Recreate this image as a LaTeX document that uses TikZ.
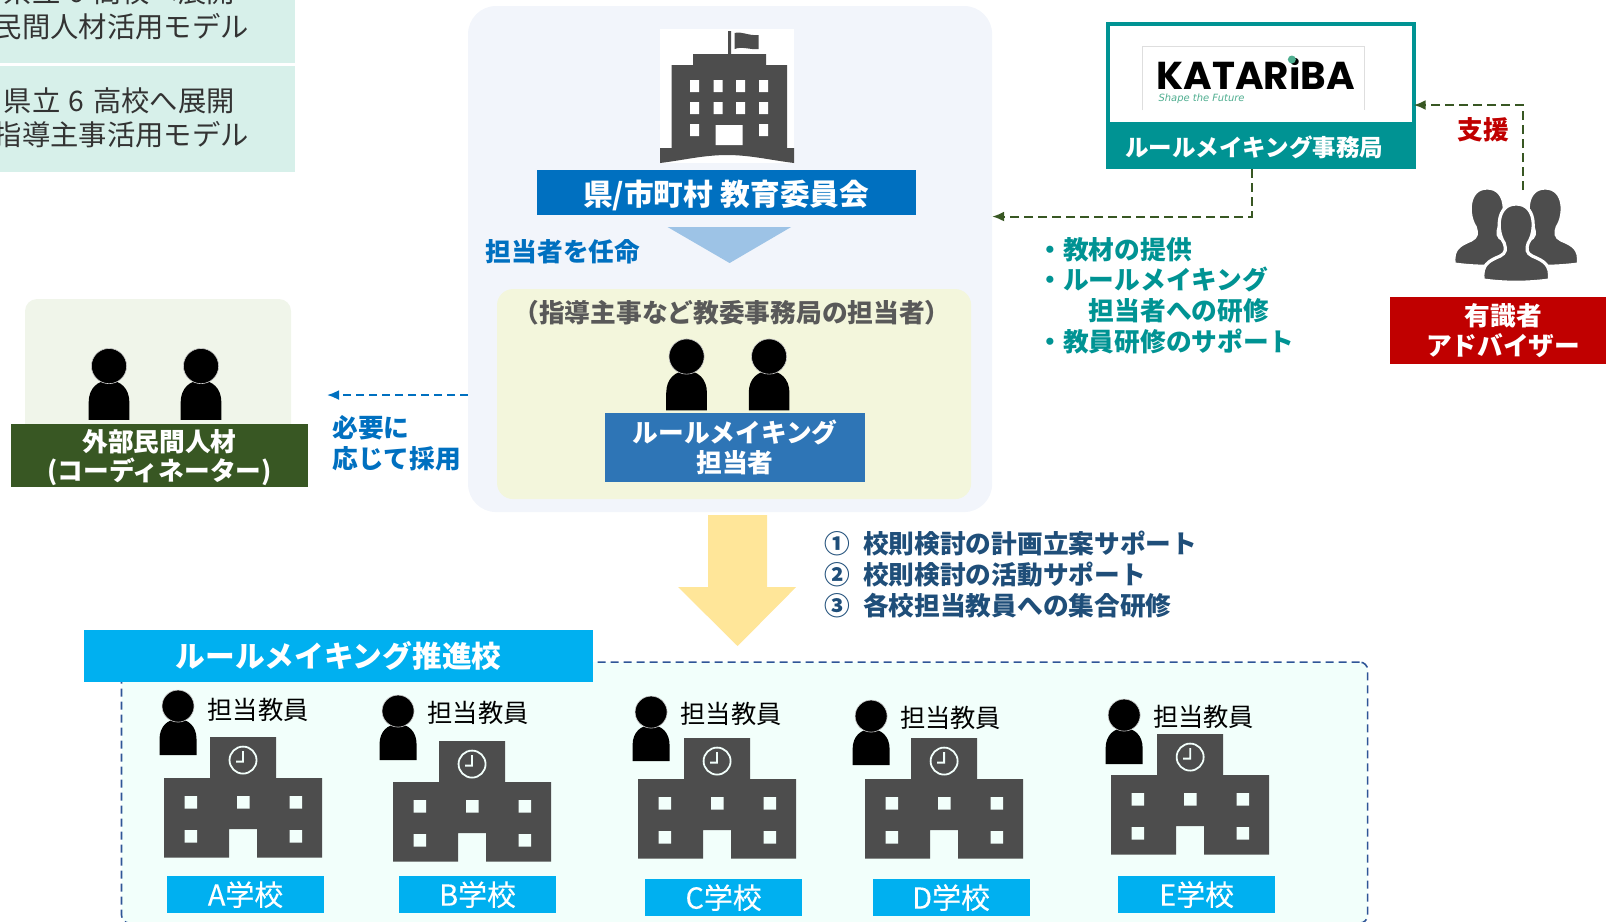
\documentclass[tikz,border=0pt]{standalone}
\usepackage{fontspec}
\usetikzlibrary{arrows.meta}
\setmainfont{Noto Sans CJK JP}
\newfontfamily\logofont{Poppins}
\newfontfamily\tagfont{DejaVu Sans}
\newfontfamily\tagjp[FakeBold=0.25]{Noto Sans CJK JP}
\definecolor{colBlue}{HTML}{0070C0}
\definecolor{colMid}{HTML}{2E75B6}
\definecolor{colDash}{HTML}{2F5597}
\definecolor{colSky}{HTML}{00B0F0}
\definecolor{colTeal}{HTML}{009393}
\definecolor{colOlive}{HTML}{385723}
\definecolor{colRed}{HTML}{C00000}
\definecolor{colNavy}{HTML}{1F4E79}
\definecolor{colIcon}{HTML}{4D4D4D}
\definecolor{colSchool}{HTML}{F2FFFB}
\definecolor{colModel}{HTML}{D7F0EA}
\definecolor{colExt}{HTML}{F0F5EA}
\definecolor{colMain}{HTML}{F2F5FB}
\definecolor{colStaff}{HTML}{F3F6DC}
\definecolor{colLogo}{HTML}{4FAE90}
\definecolor{colTri}{HTML}{9DC3E6}
\definecolor{colYellow}{HTML}{FFE699}
\tikzset{
  pxgrid/.style={x=0.5bp,y=-0.5bp},
  plainbox/.style={inner sep=0pt,outer sep=0pt,text=white},
  labelbold/.style={font=\fontsize{12.9}{15.4}\selectfont\bfseries,align=center,inner sep=0pt},
  labellist/.style={labelbold,align=left,anchor=west},
  modeltext/.style={font=\fontsize{14.2}{17}\selectfont,text=black!80,inner sep=0pt,anchor=east},
  teachertext/.style={inner sep=0pt,font=\fontsize{12.7}{15}\selectfont},
  schooltag/.style={plainbox,fill=colSky,minimum width=78.5bp,minimum height=18.5bp,font=\fontsize{14.5}{17}\tagjp},
  dashgreen/.style={colOlive,line width=1bp,dash pattern=on 4.5bp off 2.5bp,-{Latex[length=6bp,width=5bp]}},
  pics/teacher/.style={code={
    \fill[pxgrid,black] (-18.5,49) -- (-18.5,33) .. controls (-18.5,20) and (-10,13) .. (0,13)
      .. controls (10,13) and (18.5,20) .. (18.5,33) -- (18.5,49) -- cycle;
    \filldraw[pxgrid,fill=black,draw=white!80!black,line width=0.3pt] (0,0) circle (16);
  }},
  pics/school/.style={code={
    \fill[pxgrid,colIcon] (-79,120.5) -- (-79,41) -- (-33,41) -- (-33,0) -- (33,0) -- (33,41) -- (79,41)
      -- (79,120.5) -- (14,120.5) -- (14,92) -- (-14,92) -- (-14,120.5) -- cycle;
    \fill[pxgrid,colSchool] (-58.5,59) rectangle +(12.5,12.5) (-6,59) rectangle +(12.5,12.5) (46.5,59) rectangle +(12.5,12.5)
      (-58.5,93) rectangle +(12.5,12.5) (46.5,93) rectangle +(12.5,12.5);
    \draw[pxgrid,colSchool,line width=0.9pt] (0,23) circle (13.5) (0,14) -- (0,24.5) -- (-7,24.5);
  }},
  pics/bust/.style={code={
    \path[pxgrid,fill=colIcon,draw=white,line width=1.6pt] (-33,57) .. controls (-35,42) and (-28,38) .. (-16,33)
      .. controls (-10,30) and (-10,26) .. (-12,20) .. controls (-20,8) and (-20,-19) .. (0,-19)
      .. controls (20,-19) and (20,8) .. (12,20) .. controls (10,26) and (10,30) .. (16,33)
      .. controls (28,38) and (35,42) .. (33,57) .. controls (10,60) and (-10,60) .. (-33,57) -- cycle;
  }}
}
\begin{document}
\begin{tikzpicture}
    \def\x{0.5bp}
    \def\y{-0.5bp}
    \path [use as bounding box,clip] (0,0) rectangle (1605.8*\x, 921.8*\y);
    % top left
    \node [plainbox,fill=colModel,minimum width=295*\x,minimum height=69*-\y,anchor=north west] (Box_m1) at (0*\x, -6*\y) {};
    \node [plainbox,fill=colModel,minimum width=295*\x,minimum height=106*-\y,anchor=north west] (Box_m2) at (0*\x, 66*\y) {};
    \node [modeltext] (T_m1a) at (235*\x, -8*\y) {県立\hspace{0.3em}6\hspace{0.3em}高校へ展開};
    \node [modeltext] (T_m1b) at (249*\x, 27*\y) {民間人材活用モデル};
    \node [modeltext] (T_m2a) at (235*\x, 101*\y) {県立\hspace{0.3em}6\hspace{0.3em}高校へ展開};
    \node [modeltext] (T_m2b) at (249*\x, 135*\y) {指導主事活用モデル};
    % left panel
    \node [plainbox,fill=colExt,rounded corners=6bp,minimum width=266*\x,minimum height=188*-\y] (Panel_ext) at (158*\x, 393*\y) {};
    \pic at (109*\x, 366*\y) [scale=1.1] {teacher};
    \pic at (201*\x, 366*\y) [scale=1.1] {teacher};
    \node [plainbox,fill=colOlive,minimum width=297*\x,minimum height=62.5*-\y] (Bar_ext) at (159.5*\x, 455.5*\y) {};
    \node [labelbold,text=white] (T_exta) at (159.5*\x, 441.5*\y) {外部民間人材};
    \node [labelbold,text=white] (T_extb) at (159.5*\x, 472*\y) {(コーディネーター)};
    % center panel
    \node [plainbox,fill=colMain,rounded corners=14bp,minimum width=524*\x,minimum height=506*-\y] (Panel_main) at (730*\x, 259*\y) {};
    \fill [white] (660*\x, 29*\y) rectangle (794*\x, 163*\y);
    \begin{scope}[pxgrid]
      \fill [colIcon] (660,163) -- (660,148) -- (671.5,148) -- (671.5,65) -- (693,65) -- (693,54) -- (728,54) -- (728,31) -- (731,31) -- (731,54)
        -- (766,54) -- (766,65) -- (787,65) -- (787,148) -- (794,148) -- (794,163) .. controls (770,160) and (750,155) .. (727,155)
        .. controls (704,155) and (684,160) .. (660,163) -- cycle;
      \fill [colIcon] (734.5,33) .. controls (742,31) and (748,36) .. (758.5,35) -- (758.5,49) .. controls (750,50) and (742,46) .. (734.5,49) -- cycle;
      \fill [white] (690,80) rectangle +(9,12) (713.5,80) rectangle +(9,12) (736,80) rectangle +(9,12) (759,80) rectangle +(9,12)
        (690,102) rectangle +(9,12) (713.5,102) rectangle +(9,12) (736,102) rectangle +(9,12) (759,102) rectangle +(9,12)
        (690,124) rectangle +(9,12) (759,124) rectangle +(9,12) (715.5,125) rectangle (742.5,145);
    \end{scope}
    \node [plainbox,fill=colBlue,minimum width=379*\x,minimum height=45*-\y] (Bar_edu) at (726*\x, 192.5*\y) {};
    \node [inner sep=0pt,text=white,font=\fontsize{14.9}{17}\selectfont\bfseries] (T_edu) at (726*\x, 195.5*\y) {県/市町村\hspace{0.25em}教育委員会};
    \fill [colTri] (667.5*\x, 227*\y) -- (791*\x, 227*\y) -- (729.5*\x, 263*\y) -- cycle;
    \node [labelbold,text=colBlue] (T_appoint) at (563*\x, 252*\y) {担当者を任命};
    \node [plainbox,fill=colStaff,rounded corners=8bp,minimum width=474*\x,minimum height=210*-\y] (Panel_staff) at (734*\x, 394*\y) {};
    \node [labelbold,text=black!65] (T_staff) at (732*\x, 312.5*\y) {（指導主事など教委事務局の担当者）};
    \pic at (686.5*\x, 356.5*\y) [scale=1.1] {teacher};
    \pic at (769*\x, 356.5*\y) [scale=1.1] {teacher};
    \node [plainbox,fill=colMid,minimum width=260*\x,minimum height=69.5*-\y,font=\fontsize{12.9}{15.4}\selectfont\bfseries,align=center] (Bar_staff) at (735*\x, 447.5*\y) {ルールメイキング\\担当者};
    % hire arrow
    \coordinate (C_hire) at (327*\x, 395*\y);
    \path (Panel_main.west |- C_hire) edge [colBlue,line width=0.9bp,dash pattern=on 4bp off 2.5bp,-{Latex[length=6bp,width=5bp]}] (C_hire);
    \node [labellist,text=colBlue] (T_hire) at (332*\x, 443.5*\y) {必要に\\応じて採用};
    % katariba
    \node [plainbox,fill=white,draw=colTeal,line width=2bp,minimum width=306*\x,minimum height=143*-\y,anchor=north west] (Box_kat) at (1107.5*\x, 23.5*\y) {};
    \draw [black!13,line width=0.5bp] (1142*\x, 110*\y) -- (1142*\x, 46*\y) -- (1364*\x, 46*\y) -- (1364*\x, 110*\y);
    \node [inner sep=0pt,font=\fontsize{19.5}{22}\logofont\bfseries] (T_logo) at (1255.5*\x, 74*\y) {KATARiBA};
    \fill [colLogo] (1291.7*\x, 59.5*\y) circle (2bp);
    \node [inner sep=0pt,font=\fontsize{5}{6}\tagfont\itshape,text=colLogo,anchor=west] (T_tag) at (1158*\x, 99*\y) {Shape the Future};
    \node [plainbox,fill=colTeal,minimum width=310*\x,minimum height=47*-\y] (Bar_kat) at (1260.7*\x, 145.5*\y) {};
    \node [inner sep=0pt,text=white,font=\fontsize{11.8}{14}\selectfont\bfseries] (T_kat) at (1254*\x, 147*\y) {ルールメイキング事務局};
    \coordinate (C_bend) at (1251.5*\x, 216.5*\y);
    \draw [dashgreen] (C_bend |- Bar_kat.south) -- (C_bend) -- (Panel_main.east |- C_bend);
    \node [labellist,text=colTeal] (T_teach) at (1037*\x, 295.5*\y) {・教材の提供\\・ルールメイキング\\\hspace*{2em}担当者への研修\\・教員研修のサポート};
    % adviser
    \pic at (1487*\x, 207*\y) {bust};
    \pic at (1545*\x, 207*\y) {bust};
    \pic at (1516*\x, 223*\y) {bust};
    \node [plainbox,fill=colRed,minimum width=226*\x,minimum height=67*-\y,font=\fontsize{12.9}{15.4}\selectfont\bfseries,align=center] (Bar_adv) at (1503*\x, 330.5*\y) {有識者\\アドバイザー};
    \coordinate (C_adv) at (1523*\x, 190*\y);
    \coordinate (C_turn) at (1523*\x, 105*\y);
    \draw [dashgreen] (C_adv) -- (C_turn) -- (Box_kat.east |- C_turn);
    \node [labelbold,text=colRed] (T_help) at (1483*\x, 130*\y) {支援};
    % big arrow
    \fill [colYellow] (708*\x, 515*\y) -- (767*\x, 515*\y) -- (767*\x, 587*\y) -- (796*\x, 587*\y) -- (737.5*\x, 646*\y) -- (678*\x, 587*\y) -- (708*\x, 587*\y) -- cycle;
    \node [labellist,text=colNavy] (T_support) at (824*\x, 574.5*\y) {①\hspace{0.5em}校則検討の計画立案サポート\\②\hspace{0.5em}校則検討の活動サポート\\③\hspace{0.5em}各校担当教員への集合研修};
    % schools
    \node [plainbox,fill=colSchool,draw=colDash,line width=0.8bp,dash pattern=on 4bp off 2.5bp,rounded corners=4bp,minimum width=1246*\x,minimum height=261*-\y,anchor=north west] (Panel_school) at (121.5*\x, 662*\y) {};
    \node [plainbox,fill=colSky,minimum width=509*\x,minimum height=51.5*-\y,font=\fontsize{14.9}{17}\selectfont\bfseries] (Bar_school) at (338.5*\x, 656*\y) {ルールメイキング推進校};
    \pic at (178*\x, 706*\y) {teacher};
    \pic at (398*\x, 711*\y) {teacher};
    \pic at (651*\x, 712*\y) {teacher};
    \pic at (871*\x, 716*\y) {teacher};
    \pic at (1124*\x, 715*\y) {teacher};
    \node [teachertext] (T_tA) at (258*\x, 710*\y) {担当教員};
    \node [teachertext] (T_tB) at (478*\x, 713*\y) {担当教員};
    \node [teachertext] (T_tC) at (731*\x, 714*\y) {担当教員};
    \node [teachertext] (T_tD) at (950.5*\x, 718*\y) {担当教員};
    \node [teachertext] (T_tE) at (1203.5*\x, 717*\y) {担当教員};
    \pic at (243*\x, 737*\y) {school};
    \pic at (472*\x, 741*\y) {school};
    \pic at (717*\x, 738*\y) {school};
    \pic at (944*\x, 738*\y) {school};
    \pic at (1190*\x, 734*\y) {school};
    \node [schooltag] (Tag_A) at (245.5*\x, 894.5*\y) {A学校};
    \node [schooltag] (Tag_B) at (477.5*\x, 894.5*\y) {B学校};
    \node [schooltag] (Tag_C) at (723.5*\x, 897.5*\y) {C学校};
    \node [schooltag] (Tag_D) at (951*\x, 897.5*\y) {D学校};
    \node [schooltag] (Tag_E) at (1196.5*\x, 894.5*\y) {E学校};
  \end{tikzpicture}
\end{document}
